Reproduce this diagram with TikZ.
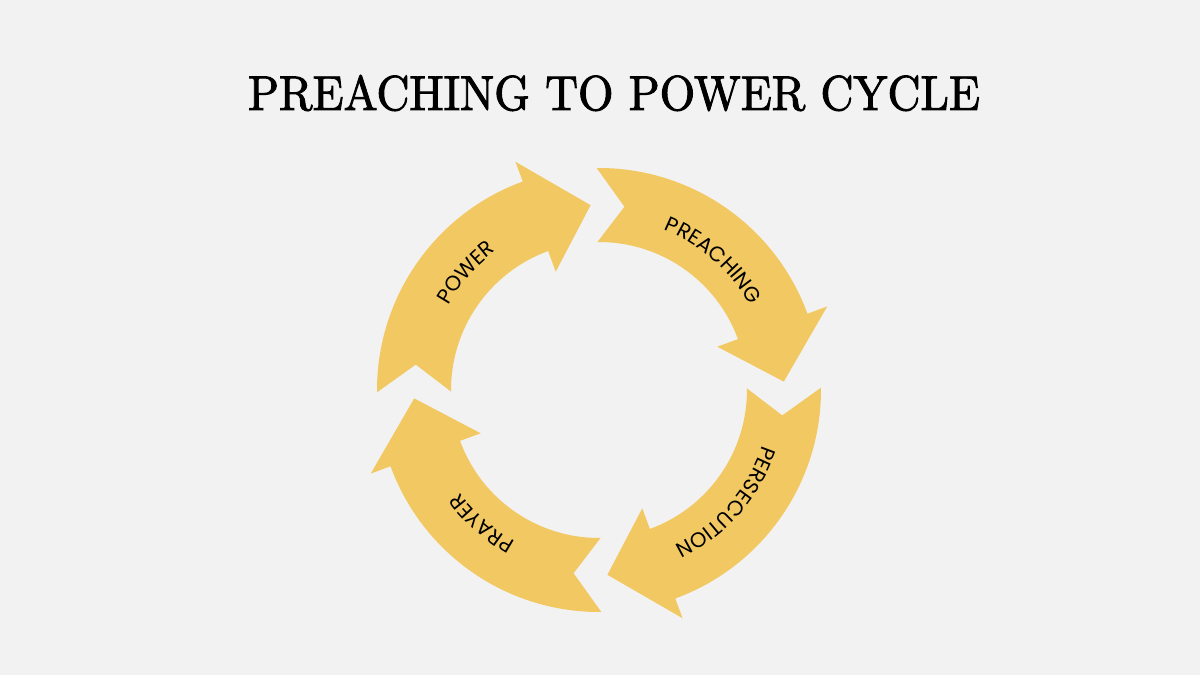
\documentclass[tikz,border=0pt]{standalone}
\usepackage{graphicx}
\usepackage{fontspec}
\usetikzlibrary{decorations.text}
\newfontfamily\labfont[LetterSpace=22]{Poppins}
\newfontfamily\titlefont[FakeBold=2]{Latin Modern Roman}
\definecolor{bgc}{HTML}{F2F2F2}
\definecolor{arrc}{HTML}{F2C862}
\tikzset{
  arrowshape/.style={fill=arrc},
  labelpath/.style={decorate, decoration={text along path, text align=center, text={#1}}}
}
\begin{document}
\begin{tikzpicture}[x=1pt,y=1pt]
\fill[bgc] (0,0) rectangle (1200,675);
\useasboundingbox (0,0) rectangle (1200,675);
\node[anchor=base, inner sep=0pt] (title) at (614,565) {\resizebox{732pt}{35pt}{\titlefont PREACHING TO POWER CYCLE}};
\begin{scope}[shift={(599,285)}]
\foreach \t in {90.6, 0.6, 270.6, 180.6}{
  \fill[arrowshape] (\t:222) arc[start angle=\t, delta angle=-70.5, radius=222]
    -- (\t-70.5:243) -- (\t-88:185) -- (\t-70.5:126) -- (\t-70.5:148)
    arc[start angle=\t-70.5, delta angle=70.5, radius=148]
    -- (\t-8.5:185) -- cycle;
}
\path[labelpath={|\labfont\fontsize{21pt}{21pt}\selectfont|PREACHING}] (88.6:173) arc[start angle=88.6, delta angle=-80, radius=173];
\path[labelpath={|\labfont\fontsize{21pt}{21pt}\selectfont|PERSECUTION}] (-1.4:173) arc[start angle=-1.4, delta angle=-80, radius=173];
\path[labelpath={|\labfont\fontsize{21pt}{21pt}\selectfont|PRAYER}] (268.6:173) arc[start angle=268.6, delta angle=-80, radius=173];
\path[labelpath={|\labfont\fontsize{21pt}{21pt}\selectfont|POWER}] (178.6:173) arc[start angle=178.6, delta angle=-80, radius=173];
\end{scope}
\end{tikzpicture}
\end{document}
